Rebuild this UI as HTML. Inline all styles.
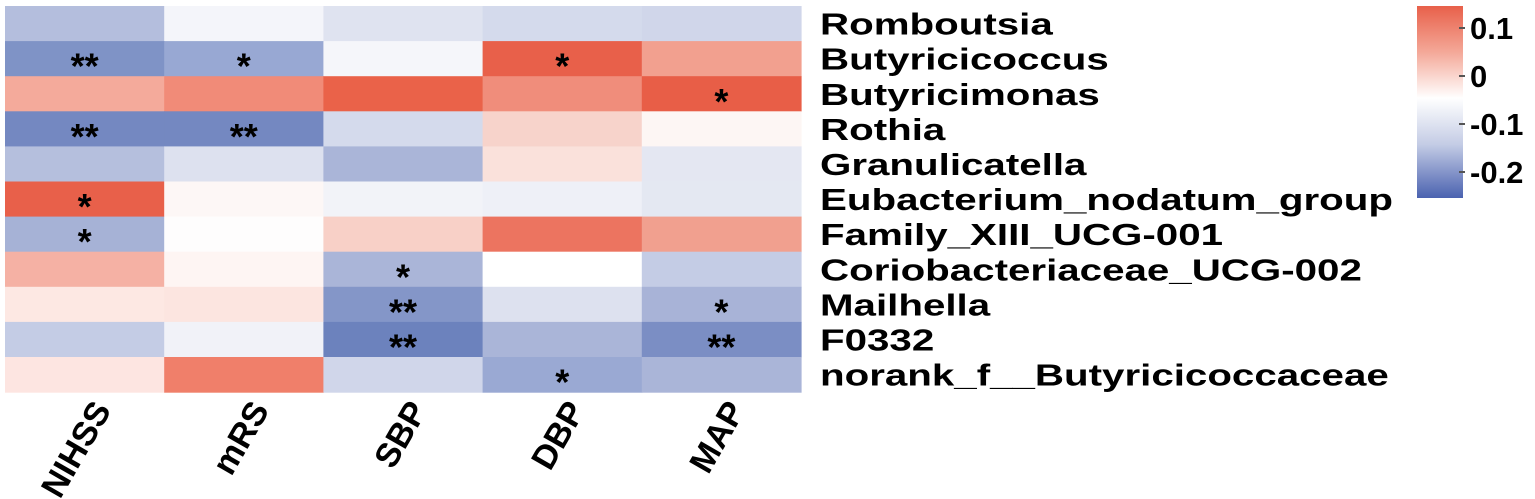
<!DOCTYPE html>
<html><head><meta charset="utf-8"><style>
html,body{margin:0;padding:0;background:#fff;}
svg{display:block;}
text{font-family:"Liberation Sans",Arial,sans-serif;font-weight:bold;fill:#000;}
</style></head><body>
<svg width="1535" height="499" viewBox="0 0 1535 499" xmlns="http://www.w3.org/2000/svg">
<defs>
<linearGradient id="cb" x1="0" y1="0" x2="0" y2="1">
<stop offset="0" stop-color="#e8604a"/>
<stop offset="0.24" stop-color="#f4a898"/>
<stop offset="0.48" stop-color="#ffffff"/>
<stop offset="0.72" stop-color="#c4cce5"/>
<stop offset="1" stop-color="#4a62b0"/>
</linearGradient>
</defs>
<g id="cells"></g>
<g id="stars"></g>
<g id="rows"></g>
<rect x="1417" y="6" width="46" height="192" fill="url(#cb)"/>
<g stroke="#555" stroke-width="2">
<line x1="1459" y1="28" x2="1465" y2="28"/><line x1="1459" y1="76" x2="1465" y2="76"/>
<line x1="1459" y1="124" x2="1465" y2="124"/><line x1="1459" y1="172" x2="1465" y2="172"/>
</g>
<g font-size="31">
<text x="1470" y="39">0.1</text><text x="1470" y="87">0</text>
<text x="1470" y="135">-0.1</text><text x="1470" y="183">-0.2</text>
</g>
<g font-size="34" text-anchor="end">
<text transform="translate(112,410) rotate(-60)">NIHSS</text>
<text transform="translate(270,410) rotate(-60)">mRS</text>
<text transform="translate(428,410) rotate(-60)">SBP</text>
<text transform="translate(586,410) rotate(-60)">DBP</text>
<text transform="translate(746,410) rotate(-60)">MAP</text>
</g>
<script>
var C=[
["#b4bedd","#f4f5fa","#dfe3f0","#d4daec","#d0d6ea"],
["#7f93c6","#98a8d3","#f5f6fa","#e8604a","#f2a08f"],
["#f4aa9b","#f18b78","#ea6249","#f08d7b","#e85e47"],
["#7488c1","#7488c1","#d4daec","#f7d3cb","#fdf6f4"],
["#b5bfdd","#dde1ef","#aab5d8","#fae1db","#e4e7f2"],
["#e8604a","#fdf7f6","#f2f3f8","#eef0f7","#e4e8f2"],
["#a6b2d6","#fefdfd","#f8d0c7","#ec7460","#f1a08f"],
["#f5b1a4","#fef5f3","#aab5d8","#ffffff","#c4cce5"],
["#fde8e3","#fce5e0","#8496c8","#dde1ef","#a8b3d7"],
["#c4cce5","#f1f2f8","#6c82bd","#aab5d8","#7b8ec4"],
["#fde5e1","#f07f6a","#d0d6ea","#9aa9d3","#aab5d8"]];
var S=[
["","","","",""],["**","*","","*",""],["","","","","*"],["**","**","","",""],
["","","","",""],["*","","","",""],["*","","","",""],["","","*","",""],
["","","**","","*"],["","","**","","**"],["","","","*",""]];
var L=["Romboutsia","Butyricicoccus","Butyricimonas","Rothia","Granulicatella","Eubacterium_nodatum_group","Family_XIII_UCG-001","Coriobacteriaceae_UCG-002","Mailhella","F0332","norank_f__Butyricicoccaceae"];
var ns="http://www.w3.org/2000/svg",x0=5,cw=159.2,y0=6,rh=35.1;
var gc=document.getElementById("cells"),gs=document.getElementById("stars"),gr=document.getElementById("rows");
for(var i=0;i<11;i++){for(var j=0;j<5;j++){
var r=document.createElementNS(ns,"rect");
r.setAttribute("x",x0+j*cw);r.setAttribute("y",y0+i*rh);
r.setAttribute("width",cw+0.6);r.setAttribute("height",rh+0.6);r.setAttribute("fill",C[i][j]);gc.appendChild(r);
if(S[i][j]){var t=document.createElementNS(ns,"text");t.setAttribute("x",x0+(j+0.5)*cw);
t.setAttribute("y",y0+(i+0.5)*rh+20);t.setAttribute("text-anchor","middle");t.setAttribute("font-size","36");
t.textContent=S[i][j];gs.appendChild(t);}}
var t2=document.createElementNS(ns,"text");t2.setAttribute("x",0);t2.setAttribute("y",0);
t2.setAttribute("font-size","31");t2.setAttribute("transform","translate(820,"+(y0+(i+0.5)*rh+11)+") scale(1.30,1)");
t2.textContent=L[i];gr.appendChild(t2);}
</script>
</svg>
</body></html>
